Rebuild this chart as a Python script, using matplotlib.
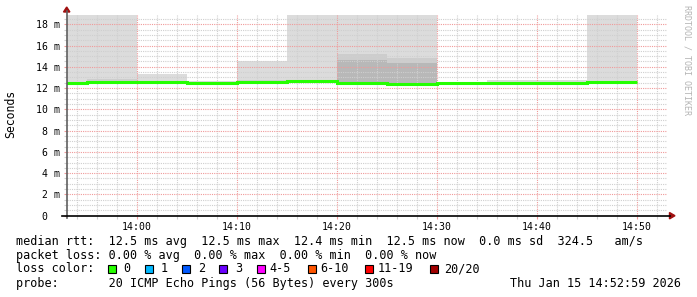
import matplotlib
matplotlib.use("Agg")
import matplotlib.pyplot as plt
from matplotlib.patches import Rectangle, Polygon
from matplotlib.lines import Line2D
from matplotlib.ticker import MultipleLocator, FuncFormatter

# -------------------------------
# DATA (5 minute steps, values in ms)
# -------------------------------
bin_start = ["13:50", "13:55", "14:00", "14:05", "14:10", "14:15",
             "14:20", "14:25", "14:30", "14:35", "14:40", "14:45"]
bin_end = "14:50"
rtt_median = [12.50, 12.55, 12.55, 12.45, 12.55, 12.62, 12.50, 12.40, 12.52, 12.50, 12.50, 12.58]
rtt_min = [12.35, 12.45, 12.45, 12.35, 12.45, 12.55, 12.40, 12.35, 12.45, 12.40, 12.40, 12.50]
rtt_max = [21.0, 21.0, 13.33, 12.65, 14.50, 21.0, 21.0, 21.0, 12.55, 12.80, 12.80, 21.0]
mid_lo = [12.40, 12.50, 12.50, 12.40, 12.50, 12.58, 12.45, 12.38, 12.48, 12.45, 12.45, 12.52]
mid_hi = [12.60, 12.85, 12.65, 12.55, 12.77, 12.70, 15.20, 14.85, 12.55, 12.60, 12.60, 12.65]
core_lo = [12.45, 12.52, 12.52, 12.42, 12.52, 12.60, 12.47, 12.40, 12.50, 12.48, 12.48, 12.55]
core_hi = [12.55, 12.60, 12.58, 12.48, 12.60, 12.65, 14.65, 14.40, 12.54, 12.52, 12.52, 12.60]

loss_labels = ["0", "1", "2", "3", "4-5", "6-10", "11-19", "20/20"]
loss_colors = ["#26ff00", "#00b8ff", "#0059ff", "#6a00ff", "#ff00ff", "#ff5500", "#ff0000", "#a10000"]

legend_lines = [
    "median rtt:  12.5 ms avg  12.5 ms max  12.4 ms min  12.5 ms now  0.0 ms sd  324.5   am/s",
    "packet loss: 0.00 % avg  0.00 % max  0.00 % min  0.00 % now",
    "loss color:",
    "probe:       20 ICMP Echo Pings (56 Bytes) every 300s",
]
stamp = "Thu Jan 15 14:52:59 2026"

# -------------------------------
# HELPERS
# -------------------------------
W, H = 697, 297
MONO = "DejaVu Sans Mono"


def to_min(s):
    h, m = s.split(":")
    return int(h) * 60 + int(m)


def fx(x):
    return x / W


def fy(y):
    return 1 - y / H


edges = [to_min(s) for s in bin_start] + [to_min(bin_end)]

fig = plt.figure(figsize=(W / 100, H / 100), dpi=100)
fig.patch.set_facecolor("white")
ax = fig.add_axes([fx(66.7), fy(215.7), 600 / W, 201 / H])
ax.set_xlim(to_min("13:53"), to_min("14:53"))
ax.set_ylim(0, 18.9)

# smoke layers
ax.stairs(rtt_max, edges, baseline=rtt_min, fill=True, color="#dcdcdc", zorder=1)
ax.stairs(mid_hi, edges, baseline=mid_lo, fill=True, color="#cdcdcd", zorder=1.1)
ax.stairs(core_hi, edges, baseline=core_lo, fill=True, color="#b8b8b8", zorder=1.2)
# median line
ax.stairs(rtt_median, edges, baseline=None, color="#26ff00", linewidth=2.2, zorder=3)

# grid
ax.set_axisbelow(False)
ax.xaxis.set_major_locator(MultipleLocator(10))
ax.xaxis.set_minor_locator(MultipleLocator(2))
ax.yaxis.set_major_locator(MultipleLocator(2))
ax.yaxis.set_minor_locator(MultipleLocator(0.5))
ax.grid(which="minor", color="#cfcfcf", linestyle=(0, (1, 1)), linewidth=0.8)
ax.grid(which="major", color="#f09a9a", linestyle=(0, (1, 1)), linewidth=0.8)

ax.xaxis.set_major_formatter(FuncFormatter(lambda v, p: f"{int(v) // 60:02d}:{int(v) % 60:02d}"))
ax.yaxis.set_major_formatter(FuncFormatter(lambda v, p: f"{int(round(v))} m" if round(v) else "0  "))
ax.tick_params(which="major", length=2, width=0.8, color="#f09a9a", pad=2.5,
               labelsize=7.1, labelcolor="#000000")
ax.tick_params(which="minor", length=2, width=0.8, color="#cfcfcf")
for lab in ax.get_xticklabels() + ax.get_yticklabels():
    lab.set_fontfamily(MONO)
for s in ax.spines.values():
    s.set_visible(False)

# axes lines and arrows
fig.add_artist(Line2D([fx(66.7), fx(66.7)], [fy(218), fy(11)], color="#606060", linewidth=1.2))
fig.add_artist(Line2D([fx(62), fx(670)], [fy(215.7), fy(215.7)], color="#000000", linewidth=1.2))
fig.add_artist(Polygon([(fx(66.7), fy(7)), (fx(63.5), fy(12)), (fx(69.9), fy(12))],
                       closed=True, color="#a01010"))
fig.add_artist(Polygon([(fx(675), fy(215.7)), (fx(669.5), fy(212.5)), (fx(669.5), fy(218.9))],
                       closed=True, color="#a01010"))

# labels
fig.text(fx(11), fy(114), "Seconds", rotation=90, ha="center", va="center",
         fontsize=8.3, family=MONO)
fig.text(fx(687.5), fy(60), "RRDTOOL / TOBI OETIKER", rotation=270, ha="center", va="center",
         fontsize=6, family=MONO, color="#b4b4b4")

# legend block
line_y = [241, 255.7, 268.7, 283.7]
for txt, y in zip(legend_lines, line_y):
    fig.text(fx(16), fy(y), txt, ha="left", va="center", fontsize=8.5, family=MONO)
fig.text(fx(681), fy(line_y[3]), stamp, ha="right", va="center", fontsize=8.5, family=MONO)

box_x = [108, 145.3, 182.2, 219.1, 256.9, 307.6, 365.3, 430.2]
label_x = [123.6, 160.9, 197.8, 234.7, 269.8, 320.4, 377.8, 444.4]
for bx, lx, lab, col in zip(box_x, label_x, loss_labels, loss_colors):
    fig.add_artist(Rectangle((fx(bx), fy(line_y[2] + 4)), 8 / W, 8 / H,
                             facecolor=col, edgecolor="black", linewidth=0.8))
    fig.text(fx(lx), fy(line_y[2]), lab, ha="left", va="center", fontsize=8.5, family=MONO)

fig.savefig("out.png", dpi=100)
